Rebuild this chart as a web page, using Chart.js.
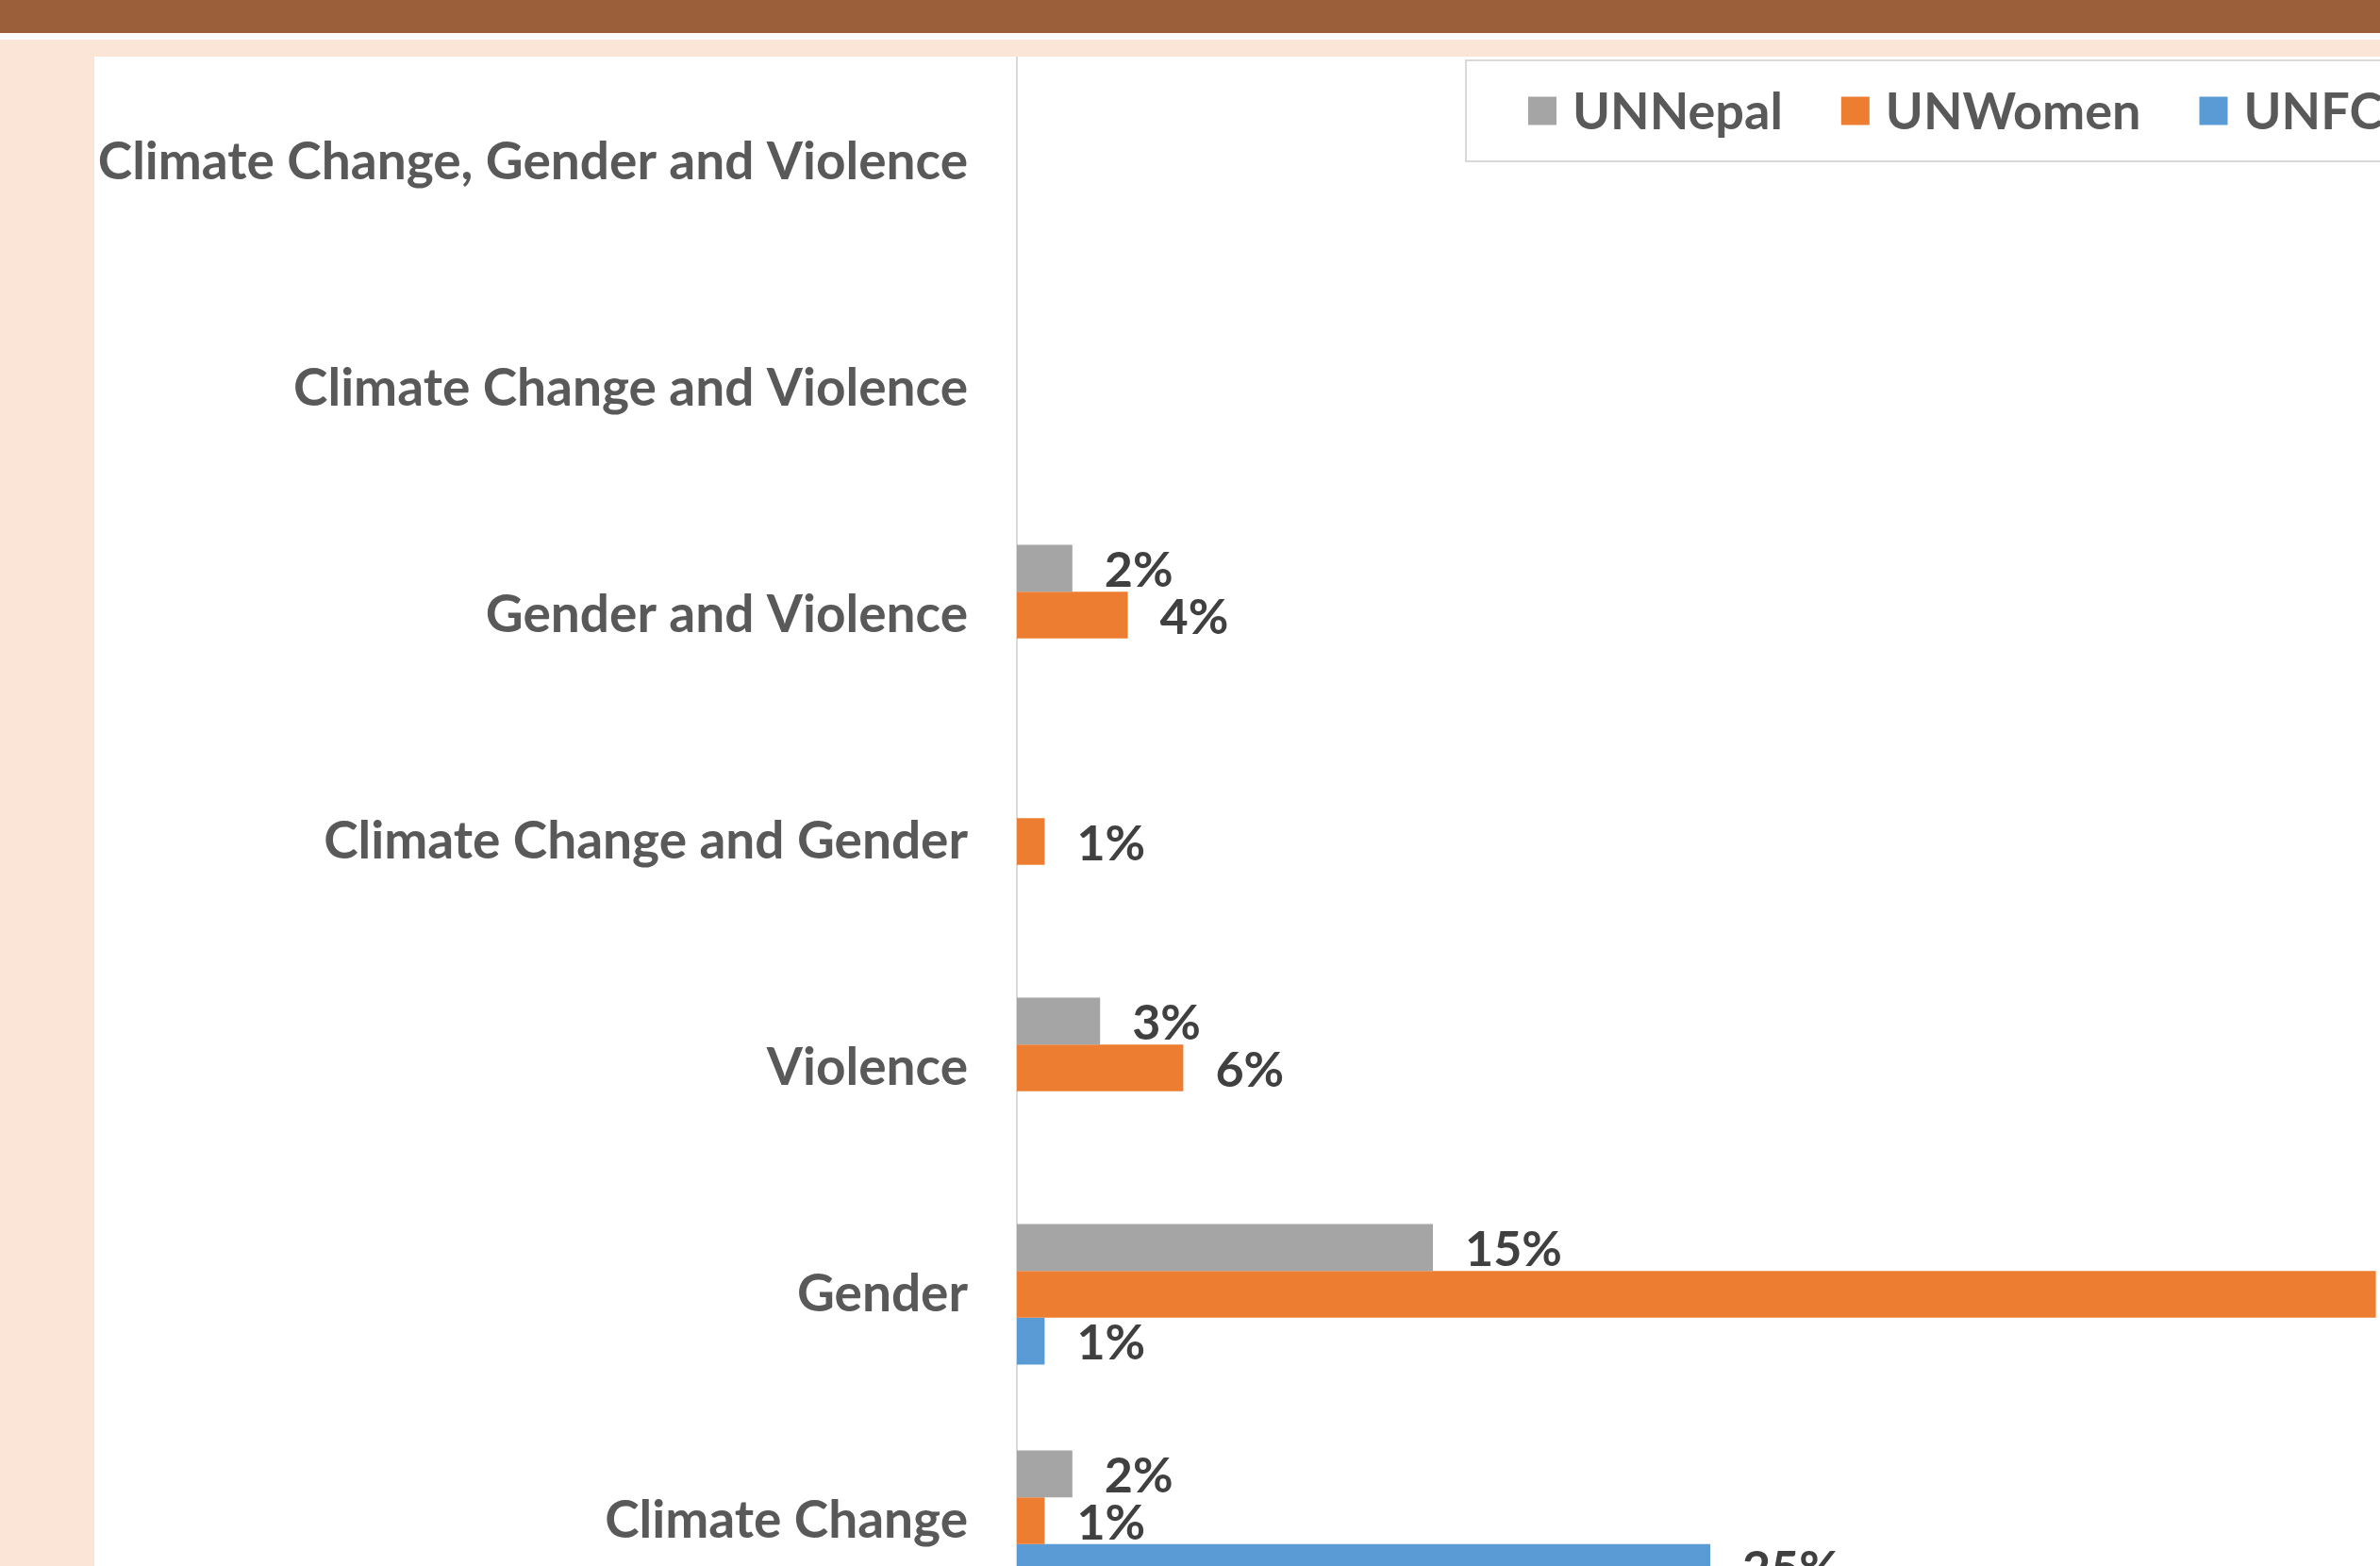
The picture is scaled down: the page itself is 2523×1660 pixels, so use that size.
<!DOCTYPE html>
<html>
<head>
<meta charset="utf-8">
<script src="https://cdn.jsdelivr.net/npm/chart.js@4/dist/chart.umd.min.js"></script>
<style>
  html, body { margin: 0; padding: 0; width: 2523px; height: 1660px; overflow: hidden; background: #fbe5d6; }
  #topbar { position: absolute; left: 0; top: 0; width: 2523px; height: 35px; background: #9b603a; }
  #gap { position: absolute; left: 0; top: 35px; width: 2523px; height: 7px; background: #ffffff; }
  #panel { position: absolute; left: 100px; top: 60px; width: 2423px; height: 1600px; background: #ffffff; overflow: hidden; }
  #wrap { position: absolute; left: 0; top: -8px; }
</style>
</head>
<body>
<div id="topbar"></div>
<div id="gap"></div>
<div id="panel">
  <div id="wrap"><canvas id="chart" width="2742" height="1680"></canvas></div>
</div>
<script>
// categories, top to bottom
const categories = [
  'Climate Change, Gender and Violence',
  'Climate Change and Violence',
  'Gender and Violence',
  'Climate Change and Gender',
  'Violence',
  'Gender',
  'Climate Change'
];
const seriesNames = ['UNNepal', 'UNWomen', 'UNFCCC'];
const seriesColors = ['#a5a5a5', '#ed7d31', '#5b9bd5'];
// percentages (null = no bar)
const unNepal = [null, null, 2, null, 3, 15, 2];
const unWomen = [null, null, 4, 1, 6, 49, 1];
const unfccc = [null, null, null, null, null, 1, 25];
const seriesValues = [unNepal, unWomen, unfccc];

const FONT = 'Lato, "Open Sans", sans-serif';

// value labels at the end of each bar
const barLabels = {
  id: 'barLabels',
  afterDatasetsDraw(chart) {
    const ctx = chart.ctx;
    ctx.save();
    ctx.font = 'bold 52px ' + FONT;
    ctx.fillStyle = '#404040';
    ctx.textAlign = 'left';
    ctx.textBaseline = 'middle';
    chart.data.datasets.forEach((ds, i) => {
      const meta = chart.getDatasetMeta(i);
      meta.data.forEach((bar, j) => {
        const v = ds.data[j];
        if (v == null) return;
        ctx.fillText(v + '%', bar.x + 34, bar.y + 3);
      });
    });
    ctx.restore();
  }
};

// boxed legend floating over the top of the plot
const boxLegend = {
  id: 'boxLegend',
  afterDraw(chart) {
    const ctx = chart.ctx;
    const left = 1454, top = 12, height = 107, pad = 66;
    ctx.save();
    ctx.font = 'bold 54px ' + FONT;
    let x = left + pad;
    const items = [];
    chart.data.datasets.forEach(ds => {
      const w = ctx.measureText(ds.label).width;
      items.push({ x: x, w: w, label: ds.label, color: ds.backgroundColor });
      x += 30 + 17 + w + 62;
    });
    const width = x - 62 + pad - left;
    ctx.fillStyle = '#ffffff';
    ctx.fillRect(left, top, width, height);
    ctx.strokeStyle = '#d9d9d9';
    ctx.lineWidth = 2;
    ctx.strokeRect(left, top, width, height);
    const cy = top + height / 2;
    ctx.textBaseline = 'middle';
    ctx.textAlign = 'left';
    items.forEach(it => {
      ctx.fillStyle = it.color;
      ctx.fillRect(it.x, cy - 15, 30, 30);
      ctx.fillStyle = '#595959';
      ctx.fillText(it.label, it.x + 47, cy + 2);
    });
    ctx.restore();
  }
};

new Chart(document.getElementById('chart'), {
  type: 'bar',
  data: {
    labels: categories,
    datasets: seriesNames.map((name, i) => ({
      label: name,
      data: seriesValues[i],
      backgroundColor: seriesColors[i],
      borderWidth: 0,
      barPercentage: 1,
      categoryPercentage: 0.62
    }))
  },
  options: {
    indexAxis: 'y',
    responsive: false,
    animation: false,
    layout: { padding: 0 },
    plugins: {
      legend: { display: false },
      tooltip: { enabled: false }
    },
    scales: {
      x: {
        display: false,
        min: 0,
        max: 60
      },
      y: {
        afterFit(scale) {
          scale.width = 978;
          scale.paddingTop = 0;
          scale.paddingBottom = 0;
        },
        grid: { display: false, drawTicks: false },
        border: { display: true, color: '#d9d9d9', width: 2 },
        ticks: {
          padding: 52,
          color: '#595959',
          font: { family: FONT, size: 55, weight: 'bold' }
        }
      }
    }
  },
  plugins: [barLabels, boxLegend]
});
</script>
</body>
</html>
